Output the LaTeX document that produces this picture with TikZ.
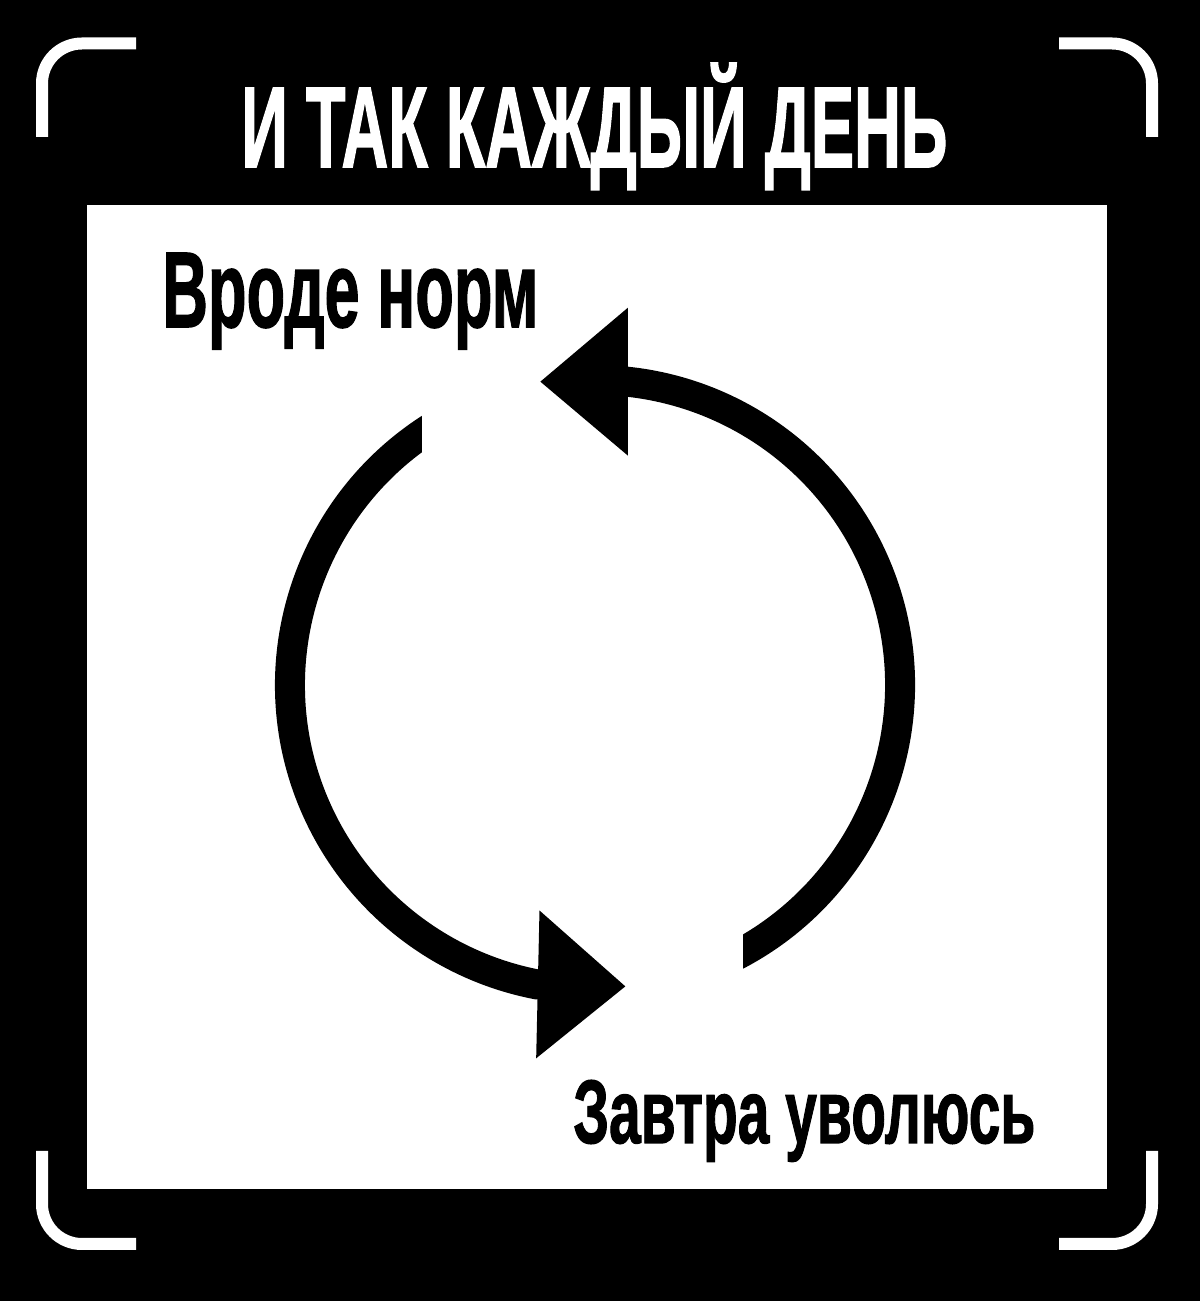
\documentclass[tikz,border=0pt]{standalone}
\usepackage{fontspec}
\setmainfont{Liberation Sans}[BoldFeatures={FakeBold=1.5}]
\usepackage{graphicx}
\usetikzlibrary{arrows.meta,bending}
% squeeze a line of text to a given width and cap height
\newcommand{\capfit}[3]{\resizebox{#1}{#2}{\vphantom{И}\smash{\bfseries #3}}}

\begin{document}
\begin{tikzpicture}[x=0.5pt,y=0.5pt,
    bracketline/.style={white, line width=6pt, rounded corners=20pt},
    cyclearc/.style={line width=15pt, -{Triangle[length=44pt,width=71pt]}},
    memetext/.style={inner sep=0pt, anchor=base west}]
    \fill[black] (0,0) rectangle (1200,1301);
    \fill[white] (87,112) rectangle (1107,1096);

    % corner brackets
    \draw[bracketline] (42,1164) -- (42,1257.5) -- (136,1257.5);
    \draw[bracketline] (1059,1257.5) -- (1152,1257.5) -- (1152,1164);
    \draw[bracketline] (42,150) -- (42,57) -- (136,57);
    \draw[bracketline] (1059,57) -- (1152,57) -- (1152,150);

    \node[memetext, white] (title) at (241,1134) {\capfit{353pt}{39.5pt}{И ТАК КАЖДЫЙ ДЕНЬ}};
    \node[memetext] (norm) at (162,974) {\capfit{188pt}{37pt}{Вроде норм}};
    \node[memetext] (quit) at (573,158) {\capfit{231pt}{31pt}{Завтра уволюсь}};

    \coordinate (cyc) at (595,616);
    \draw[cyclearc] (cyc) ++(118:305) arc[start angle=118, end angle=259, radius=305] -- ++(89,-2);
    \draw[cyclearc] (cyc) ++(-68:305) arc[start angle=-68, end angle=84, radius=305] -- ++(-87,0);
    % square off the tails
    \fill[white] (422,830) rectangle (470,910);
    \fill[white] (695,300) rectangle (743,380);
\end{tikzpicture}
\end{document}
